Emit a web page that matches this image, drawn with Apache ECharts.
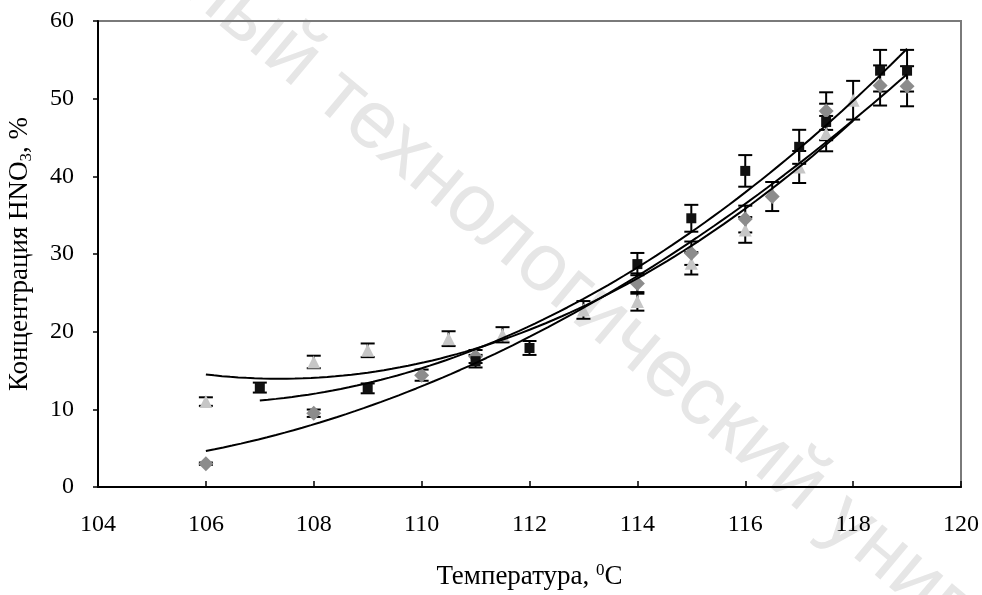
<!DOCTYPE html>
<html>
<head>
<meta charset="utf-8">
<script src="https://cdn.jsdelivr.net/npm/echarts@6/dist/echarts.min.js"></script>
<style>
html,body{margin:0;padding:0;background:#fff;}
#chart{width:982px;height:595px;}
</style>
</head>
<body>
<div id="chart"></div>
<script>
// ---- data ----
const xTicks = [104, 106, 108, 110, 112, 114, 116, 118, 120];
const yTicks = [0, 10, 20, 30, 40, 50, 60];

// series 1: black squares
const sqX = [107, 109, 111, 112, 114, 115, 116, 117, 117.5, 118.5, 119];
const sqY = [12.8, 12.7, 16.2, 17.9, 28.7, 34.6, 40.7, 43.8, 47.0, 53.6, 53.6];
// series 2: grey diamonds
const diaX = [106, 108, 110, 111, 114, 115, 116, 116.5, 117.5, 118.5, 119];
const diaY = [3.0, 9.5, 14.4, 16.8, 26.2, 30.1, 34.5, 37.4, 48.4, 51.7, 51.6];
// series 3: light grey triangles
const triX = [106, 108, 109, 110.5, 111.5, 113, 114, 115, 116, 117, 117.5, 118];
const triY = [11.0, 16.1, 17.6, 19.1, 19.6, 22.8, 23.9, 28.8, 33.1, 41.2, 45.5, 49.8];

const errPct = 0.05; // percentage error bars

function zip(xs, ys) { return xs.map((x, i) => [x, ys[i]]); }

// quadratic least-squares trendline (like a spreadsheet trendline)
function polyfit2(xs, ys) {
  const n = xs.length;
  let s = [0, 0, 0, 0, 0], t = [0, 0, 0];
  for (let i = 0; i < n; i++) {
    const x = xs[i], y = ys[i];
    for (let k = 0; k < 5; k++) s[k] += Math.pow(x, k);
    for (let k = 0; k < 3; k++) t[k] += y * Math.pow(x, k);
  }
  const A = [[s[0], s[1], s[2], t[0]], [s[1], s[2], s[3], t[1]], [s[2], s[3], s[4], t[2]]];
  for (let c = 0; c < 3; c++) {
    let p = c;
    for (let r = c + 1; r < 3; r++) if (Math.abs(A[r][c]) > Math.abs(A[p][c])) p = r;
    [A[c], A[p]] = [A[p], A[c]];
    for (let r = 0; r < 3; r++) {
      if (r === c) continue;
      const f = A[r][c] / A[c][c];
      for (let k = c; k < 4; k++) A[r][k] -= f * A[c][k];
    }
  }
  return [A[0][3] / A[0][0], A[1][3] / A[1][1], A[2][3] / A[2][2]];
}
function trend(xs, ys) {
  const c = polyfit2(xs, ys);
  const x0 = Math.min(...xs), x1 = Math.max(...xs);
  const pts = [];
  const N = 80;
  for (let i = 0; i <= N; i++) {
    const x = x0 + (x1 - x0) * i / N;
    pts.push([x, c[0] + c[1] * x + c[2] * x * x]);
  }
  return pts;
}

function errSeries(xs, ys) {
  return {
    type: 'custom',
    z: 3,
    silent: true,
    data: xs.map((x, i) => [x, ys[i] * (1 - errPct), ys[i] * (1 + errPct)]),
    renderItem: function (params, api) {
      const lo = api.coord([api.value(0), api.value(1)]);
      const hi = api.coord([api.value(0), api.value(2)]);
      const w = 7;
      const st = { stroke: '#000', lineWidth: 2 };
      return {
        type: 'group',
        children: [
          { type: 'line', shape: { x1: lo[0], y1: lo[1], x2: hi[0], y2: hi[1] }, style: st },
          { type: 'line', shape: { x1: lo[0] - w, y1: lo[1], x2: lo[0] + w, y2: lo[1] }, style: st },
          { type: 'line', shape: { x1: hi[0] - w, y1: hi[1], x2: hi[0] + w, y2: hi[1] }, style: st }
        ]
      };
    }
  };
}

function trendSeries(xs, ys) {
  return {
    type: 'line', z: 6, silent: true, showSymbol: false, smooth: false,
    data: trend(xs, ys),
    lineStyle: { color: '#000', width: 2 }
  };
}

const serif = '"Liberation Serif", "Times New Roman", serif';
const chart = echarts.init(document.getElementById('chart'));
chart.setOption({
  animation: false,
  backgroundColor: '#fff',
  graphic: [{
    type: 'text', z: -1, x: 195, y: -25, rotation: -40 * Math.PI / 180,
    style: {
      text: 'ный технологический университет',
      fill: '#e6e6e6',
      font: '82px "Liberation Sans", Arial, sans-serif',
      textAlign: 'left', textVerticalAlign: 'middle'
    }
  }],
  grid: { left: 98, right: 21, top: 21, bottom: 108, outerBoundsMode: 'none', containLabel: false,
    show: true, borderColor: '#7a7a7a', borderWidth: 2, backgroundColor: 'transparent' },
  xAxis: {
    type: 'value', min: 104, max: 120, interval: 2,
    axisLine: { lineStyle: { color: '#000', width: 2 } },
    axisTick: { inside: true, length: 6, lineStyle: { color: '#000', width: 1.5 } },
    splitLine: { show: false },
    axisLabel: { color: '#000', fontFamily: serif, fontSize: 24, margin: 26,
      formatter: v => xTicks.includes(v) ? String(v) : '' },
    name: 'Температура, {sup|0}C',
    nameLocation: 'middle', nameGap: 75,
    nameTextStyle: { color: '#000', fontFamily: serif, fontSize: 27, lineHeight: 30,
      rich: { sup: { fontFamily: serif, fontSize: 17, verticalAlign: 'top', lineHeight: 30, color: '#000' } } }
  },
  yAxis: {
    type: 'value', min: 0, max: 60, interval: 10,
    axisLine: { show: true, lineStyle: { color: '#000', width: 2 } },
    axisTick: { show: true, inside: false, length: 5, lineStyle: { color: '#000', width: 1.5 } },
    splitLine: { show: false },
    axisLabel: { color: '#000', fontFamily: serif, fontSize: 24, margin: 24,
      formatter: v => yTicks.includes(v) ? String(v) : '' },
    name: 'Концентрация HNO{sub|3}, %',
    nameLocation: 'middle', nameGap: 63, nameRotate: 90,
    nameTextStyle: { color: '#000', fontFamily: serif, fontSize: 27, lineHeight: 30,
      rich: { sub: { fontFamily: serif, fontSize: 17, verticalAlign: 'bottom', lineHeight: 30, color: '#000' } } }
  },
  series: [
    errSeries(triX, triY),
    errSeries(diaX, diaY),
    errSeries(sqX, sqY),
    { type: 'scatter', z: 4, symbol: 'triangle', symbolSize: 13, data: zip(triX, triY), itemStyle: { color: '#c6c6c6', opacity: 1 } },
    { type: 'scatter', z: 4, symbol: 'diamond', symbolSize: 15, data: zip(diaX, diaY), itemStyle: { color: '#8c8c8c', opacity: 1 } },
    { type: 'scatter', z: 5, symbol: 'rect', symbolSize: 10, data: zip(sqX, sqY), itemStyle: { color: '#111', opacity: 1 } },
    trendSeries(triX, triY),
    trendSeries(diaX, diaY),
    trendSeries(sqX, sqY)
  ]
});
</script>
</body>
</html>
